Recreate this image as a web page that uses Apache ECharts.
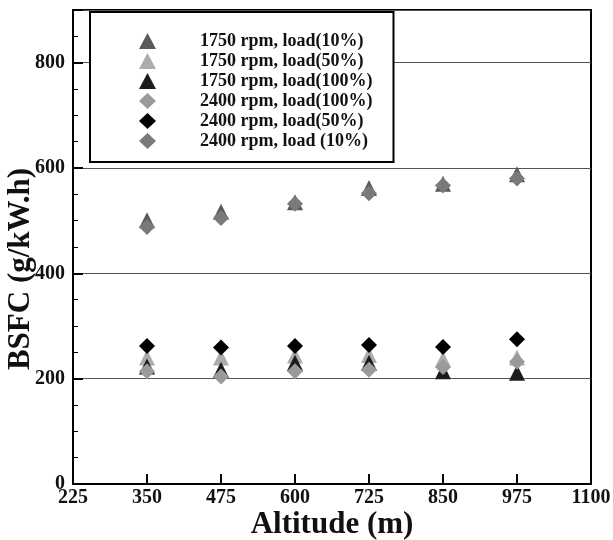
<!DOCTYPE html>
<html><head><meta charset="utf-8">
<script src="https://cdn.jsdelivr.net/npm/echarts@6/dist/echarts.min.js"></script>
<style>html,body{margin:0;padding:0;background:#fff}#c{width:613px;height:540px}</style>
</head><body><div id="c"></div>
<script>
const altitudes = [350, 475, 600, 725, 850, 975];
const seriesNames = ['1750 rpm, load(10%)','1750 rpm, load(50%)','1750 rpm, load(100%)','2400 rpm, load(100%)','2400 rpm, load(50%)','2400 rpm, load (10%)'];
const rpm1750_10  = [501, 517, 535, 562, 570, 588];
const rpm1750_50  = [240, 240, 244, 245, 237, 240];
const rpm1750_100 = [223, 217, 230, 230, 214, 211];
const rpm2400_100 = [214, 204, 214, 217, 222, 232];
const rpm2400_50  = [262, 259, 262, 264, 260, 275];
const rpm2400_10  = [488, 505, 532, 552, 567, 580];
const xTicks = [225, 1100, 125];
const yTicks = [0, 900, 200];

const allData = [rpm1750_10, rpm1750_50, rpm1750_100, rpm2400_100, rpm2400_50, rpm2400_10];
const symbols = ['triangle','triangle','triangle','diamond','diamond','diamond'];
const colors = ['#5a5a5a','#acacac','#1c1c1c','#9a9a9a','#000000','#7a7a7a'];
const font = 'Liberation Serif';

const chart = echarts.init(document.getElementById('c'));
chart.setOption({
  animation: false,
  backgroundColor: '#fff',
  grid: {left: 73, right: 22, top: 10, bottom: 56, outerBoundsMode: 'none', containLabel: false,
    show: true, borderColor: '#000', borderWidth: 2, backgroundColor: 'transparent'},
  legend: {
    orient: 'vertical', left: 90, top: 12,
    padding: [20, 21, 12, 49],
    itemGap: 2, itemWidth: 17, itemHeight: 16,
    borderColor: '#000', borderWidth: 2, backgroundColor: '#fff',
    textStyle: {fontFamily: font, fontWeight: 'bold', fontSize: 18, color: '#111', padding: [0,0,0,39]},
    data: seriesNames
  },
  xAxis: {
    type: 'value', min: xTicks[0], max: xTicks[1], interval: xTicks[2],
    name: 'Altitude (m)', nameLocation: 'middle', nameGap: 25, nameMoveOverlap: false,
    nameTextStyle: {fontFamily: font, fontWeight: 'bold', fontSize: 31, color: '#111'},
    axisLine: {lineStyle: {color: '#000', width: 2}},
    axisTick: {inside: true, length: 10, lineStyle: {color: '#000', width: 2}},
    axisLabel: {fontFamily: font, fontWeight: 'bold', fontSize: 20, color: '#111', margin: 4,
      formatter: v => String(v)},
    splitLine: {show: false}
  },
  yAxis: {
    type: 'value', min: yTicks[0], max: yTicks[1], interval: yTicks[2],
    name: 'BSFC (g/kW.h)', nameLocation: 'middle', nameGap: 37, nameMoveOverlap: false,
    nameTextStyle: {fontFamily: font, fontWeight: 'bold', fontSize: 31, color: '#111', padding: [0, 44, 0, 0]},
    axisLine: {lineStyle: {color: '#000', width: 2}},
    axisTick: {inside: true, length: 10, lineStyle: {color: '#000', width: 2}},
    minorTick: {show: true, splitNumber: 4, length: 5, lineStyle: {color: '#000', width: 1}},
    axisLabel: {fontFamily: font, fontWeight: 'bold', fontSize: 20, color: '#111', margin: 8,
      formatter: v => (v % 200 === 0 ? String(v) : '')},
    splitLine: {show: true, lineStyle: {color: '#555', width: 1}}
  },
  series: seriesNames.map((n, i) => ({
    name: n, type: 'scatter', symbol: symbols[i], symbolSize: 16,
    itemStyle: {color: colors[i], opacity: 1},
    data: altitudes.map((a, j) => [a, allData[i][j]])
  }))
});
</script></body></html>
